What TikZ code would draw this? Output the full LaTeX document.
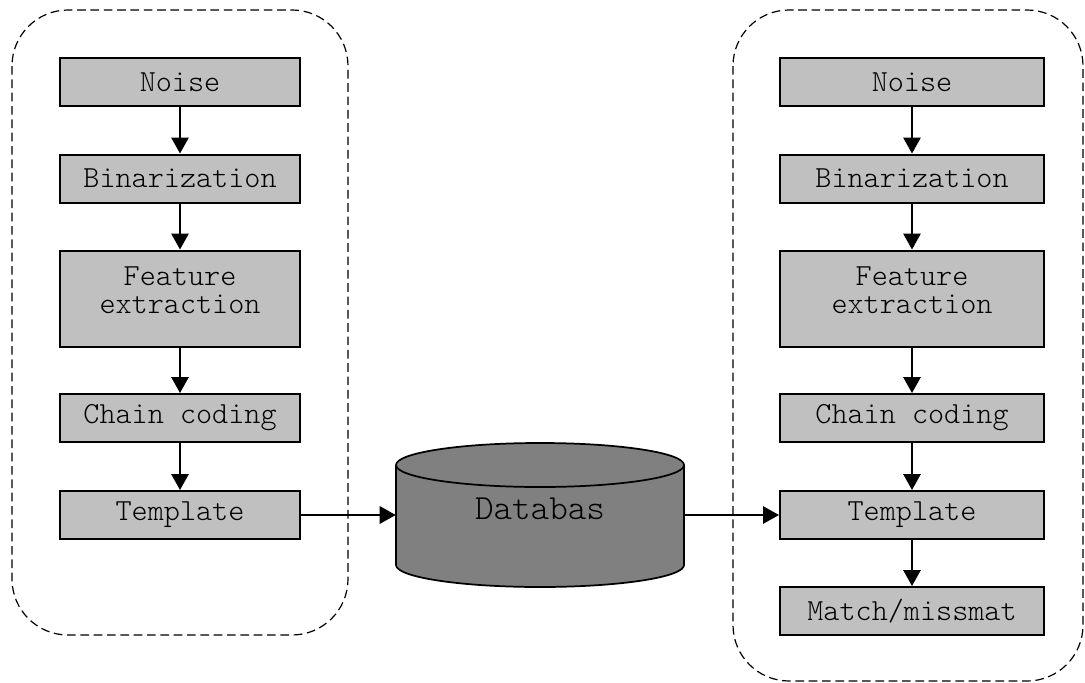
\documentclass[tikz,border=0pt]{standalone}
\usepackage{tikz}
\usetikzlibrary{arrows.meta}
\definecolor{boxgray}{RGB}{192,192,192}
\definecolor{dbgray}{RGB}{128,128,128}
\tikzset{
  stage/.style = {draw, line width=1.5pt, fill=boxgray, minimum height=36pt,
                  inner sep=0pt, align=center, font=\ttfamily\fontseries{l}\fontsize{23}{21}\selectfont},
  flow/.style  = {line width=1.5pt, -{Triangle[width=13pt,length=12pt]}},
  group/.style = {line width=0.9pt, dash pattern=on 6.5pt off 3.5pt, rounded corners=42pt}
}

\begin{document}
\begin{tikzpicture}[x=0.75pt, y=-0.75pt]
          \useasboundingbox (0,0) rectangle (1085,682);
          % dashed groups
          \draw[group] (12,10) rectangle (348,635);
          \draw[group] (733,10) rectangle (1083,681);
          % enrolment side
          \node[stage, minimum width=180pt] (noiseL) at (180,82) {Noise};
          \node[stage, minimum width=180pt] (binL)   at (180,178.5) {Binarization};
          \node[stage, minimum width=180pt, minimum height=72pt] (featL) at (180,298.5) {Feature\\extraction\\[-9pt]\mbox{}};
          \node[stage, minimum width=180pt] (chainL) at (180,418) {Chain coding};
          \node[stage, minimum width=180pt] (tplL)   at (180,515) {Template};
          % verification side
          \node[stage, minimum width=198pt] (noiseR) at (912,82) {Noise};
          \node[stage, minimum width=198pt] (binR)   at (912,178.5) {Binarization};
          \node[stage, minimum width=198pt, minimum height=72pt] (featR) at (912,298.5) {Feature\\extraction\\[-9pt]\mbox{}};
          \node[stage, minimum width=198pt] (chainR) at (912,418) {Chain coding};
          \node[stage, minimum width=198pt] (tplR)   at (912,515) {Template};
          \node[stage, minimum width=198pt] (matchR) at (912,611) {Match/missmat};
          % database cylinder
          \filldraw[fill=dbgray, line width=1.3pt] (540,565) ellipse [x radius=108pt, y radius=16.5pt];
          \fill[dbgray] (396,465) rectangle (684,565);
          \draw[line width=1.3pt] (396,465) -- (396,565) (684,465) -- (684,565);
          \filldraw[fill=dbgray, line width=1.3pt] (540,465) ellipse [x radius=108pt, y radius=16.5pt];
          \node[minimum width=216pt, minimum height=108pt, inner sep=0pt,
                font=\ttfamily\fontseries{l}\fontsize{26.5}{28}\selectfont, text depth=10pt] (db) at (540,515) {Databas};
          % connectors
          \draw[flow] (noiseL) -- (binL);
          \draw[flow] (binL) -- (featL);
          \draw[flow] (featL) -- (chainL);
          \draw[flow] (chainL) -- (tplL);
          \draw[flow] (tplL) -- (db);
          \draw[flow] (db) -- (tplR);
          \draw[flow] (noiseR) -- (binR);
          \draw[flow] (binR) -- (featR);
          \draw[flow] (featR) -- (chainR);
          \draw[flow] (chainR) -- (tplR);
          \draw[flow] (tplR) -- (matchR);
        \end{tikzpicture}
\end{document}
